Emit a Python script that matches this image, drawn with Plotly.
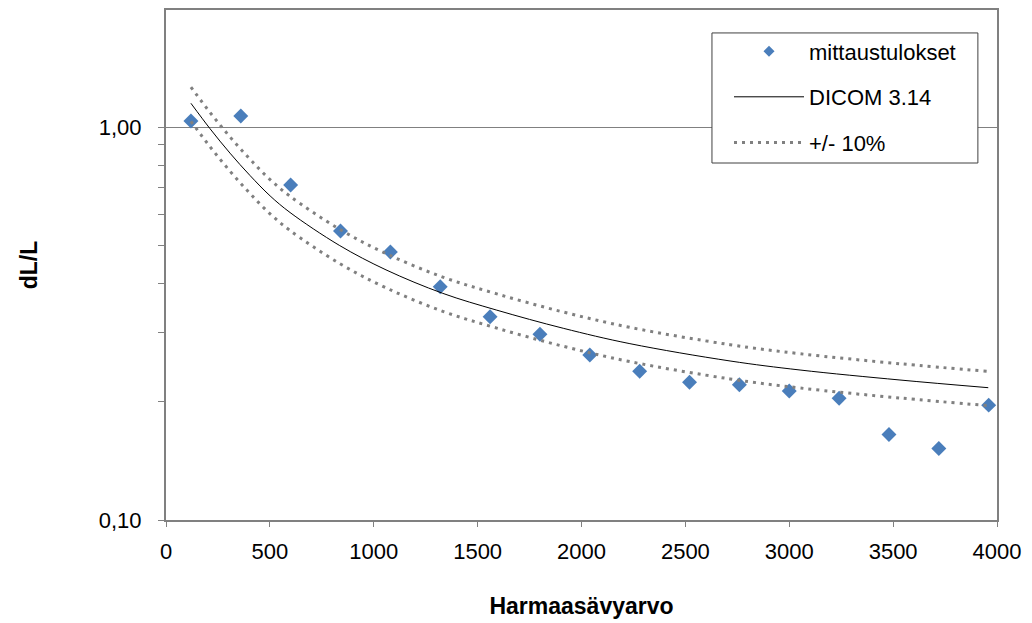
import plotly.graph_objects as go

# Measured values
x_meas = [120, 360, 600, 840, 1080, 1320, 1560, 1800, 2040, 2280, 2520, 2760, 3000, 3240, 3480, 3720, 3960]
y_meas = [1.036, 1.067, 0.712, 0.544, 0.481, 0.392, 0.329, 0.297, 0.263, 0.239, 0.224, 0.221, 0.213, 0.204, 0.165, 0.152, 0.196]

# DICOM 3.14 reference curve
x_dicom = [120, 212, 308, 404, 501, 597, 834, 1059, 1332, 1592, 1912, 2233, 2715, 3052, 3533, 3958]
y_dicom = [1.149, 0.99, 0.858, 0.753, 0.668, 0.606, 0.50, 0.433, 0.3774, 0.342, 0.3075, 0.281, 0.2539, 0.2408, 0.2271, 0.2171]

# +/- 10 % limits
tol = 0.10
y_upper = [v * (1 + tol) for v in y_dicom]
y_lower = [v * (1 - tol) for v in y_dicom]

y_tickvals = [0.1, 1.0]
y_ticktext = ["0,10", "1,00"]
y_minor = [0.2, 0.3, 0.4, 0.5, 0.6, 0.7, 0.8, 0.9, 2.0]
x_tickvals = [0, 500, 1000, 1500, 2000, 2500, 3000, 3500, 4000]

FONT = "Liberation Sans, Arial, sans-serif"
GRAY = "#808080"
BLUE = "#4A7EBB"
DOT = "3px,5px"

fig = go.Figure()
# data markers (legend entry drawn by a small-marker proxy below)
fig.add_trace(go.Scatter(
    x=x_meas, y=y_meas, mode="markers", name="mittaustulokset", showlegend=False,
    marker=dict(symbol="diamond", size=11.5, color=BLUE, line=dict(width=0)),
    legendgroup="a"))
fig.add_trace(go.Scatter(
    x=[None], y=[None], mode="markers", name="mittaustulokset",
    marker=dict(symbol="diamond", size=8.5, color=BLUE, line=dict(width=0)),
    legendgroup="a"))
fig.add_trace(go.Scatter(
    x=x_dicom, y=y_dicom, mode="lines", name="DICOM 3.14",
    line=dict(color="black", width=1, shape="spline"), legendgroup="b"))
fig.add_trace(go.Scatter(
    x=x_dicom, y=y_upper, mode="lines", name="+/- 10%",
    line=dict(color=GRAY, width=3, dash=DOT, shape="spline"), legendgroup="c"))
fig.add_trace(go.Scatter(
    x=x_dicom, y=y_lower, mode="lines", name="+/- 10%", showlegend=False,
    line=dict(color=GRAY, width=3, dash=DOT, shape="spline"), legendgroup="c"))

# legend frame
fig.add_shape(type="rect", xref="paper", yref="paper",
              x0=0.657, x1=0.977, y0=0.70, y1=0.955,
              fillcolor="white", line=dict(color="#404040", width=1), layer="above")

fig.update_layout(
    width=1032, height=623,
    margin=dict(l=166, r=35, t=10, b=103, autoexpand=False),
    paper_bgcolor="white", plot_bgcolor="white",
    font=dict(family=FONT, size=22, color="black"),
    legend=dict(
        x=0.6775, y=0.960, xanchor="left", yanchor="top",
        bgcolor="rgba(0,0,0,0)", borderwidth=0,
        font=dict(size=22), traceorder="grouped", tracegroupgap=14,
        itemwidth=70),
    xaxis=dict(
        range=[0, 4000], tickvals=x_tickvals, ticks="outside", ticklen=5,
        tickcolor=GRAY, showline=True, linecolor=GRAY, linewidth=2, mirror=True,
        showgrid=False, zeroline=False, tickfont=dict(size=22), ticklabelstandoff=6,
        title=dict(text="<b>Harmaasävyarvo</b>", font=dict(size=23), standoff=34)),
    yaxis=dict(
        type="log", range=[-1, 0.2977], tickvals=y_tickvals, ticktext=y_ticktext,
        ticks="outside", ticklen=6, tickcolor=GRAY, ticklabelstandoff=12,
        showline=True, linecolor=GRAY, linewidth=2, mirror=True,
        showgrid=True, gridcolor=GRAY, gridwidth=1, zeroline=False,
        tickfont=dict(size=22),
        minor=dict(tickvals=y_minor, ticks="outside", ticklen=6, tickcolor=GRAY, showgrid=False),
        title=dict(text="<b>dL/L</b>", font=dict(size=23), standoff=55)),
)

fig.write_html("out.html")
